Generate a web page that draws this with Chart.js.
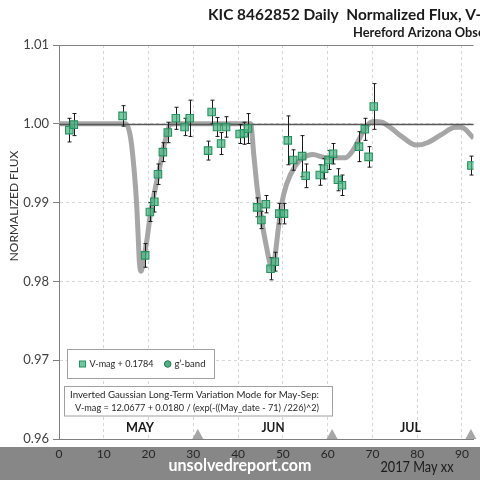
<!DOCTYPE html>
<html>
<head>
<meta charset="utf-8">
<script src="https://cdn.jsdelivr.net/npm/chart.js@4.4.0/dist/chart.umd.min.js"></script>
<style>
    html, body { margin: 0; padding: 0; background: #fff; overflow: hidden; }
    #wrap { width: 480px; height: 480px; }
</style>
</head>
<body>
<div id="wrap"><canvas id="fluxChart" width="480" height="480"></canvas></div>
<script>
// daily V-mag normalized flux
const obsDays = [2.3, 3.3, 14.2, 19.25, 20.3, 21.3, 22.1, 23.2, 24.3, 26.1, 28.05, 29.2,
    33.3, 34.1, 35.3, 36.2, 37.3, 40.35, 41.3, 42.2, 44.25, 45.2, 46.2, 47.25, 48.2,
    49.2, 50.25, 51.1, 52.3, 54.3, 55.1, 58.25, 59.2, 60.2, 61.2, 62.3, 63.2, 67.0,
    68.3, 69.15, 70.3, 92.1];
const obsFlux = [0.9992, 0.9999, 1.0010, 0.9833, 0.9888, 0.9901, 0.9936, 0.9964, 0.9989, 1.0007, 0.9996, 1.0007,
    0.9966, 1.0015, 0.9996, 0.9975, 0.9996, 0.9987, 0.9988, 0.9994, 0.9894, 0.9878, 0.9898, 0.9816, 0.9825,
    0.9886, 0.9886, 0.9979, 0.9954, 0.9959, 0.9934, 0.9935, 0.9943, 0.9954, 0.9962, 0.9929, 0.9922, 0.9971,
    0.9993, 0.9958, 1.0022, 0.9947];
const obsErr = [0.0015, 0.0014, 0.0013, 0.0015, 0.0012, 0.0013, 0.0013, 0.0012, 0.0013, 0.0014, 0.0011, 0.0023,
    0.0012, 0.0015, 0.0012, 0.0014, 0.0013, 0.0012, 0.0014, 0.0019, 0.0012, 0.0011, 0.0011, 0.0014, 0.0012,
    0.0013, 0.0013, 0.0031, 0.0013, 0.0026, 0.0015, 0.0013, 0.0013, 0.0012, 0.0013, 0.0014, 0.0013, 0.0019,
    0.0014, 0.0013, 0.0029, 0.0012];

// model curve (gray)
const modelDays = [0, 14.9, 16.0, 16.8, 17.35, 17.7, 17.95, 18.35, 18.95, 19.7, 20.4, 21.5, 22.6, 23.7, 24.8, 25.9,
    42.8, 43.5, 44.25, 45.3, 46.4, 47.2, 47.7, 48.3, 49.0, 49.7, 50.8, 52.7, 54.5, 56.7, 59.6, 64.0,
    65.5, 67.0, 68.4, 70.2, 72.1, 74.3, 76.5, 79.8, 82.3, 85.3, 88.6, 89.8, 92.6];
const modelFlux = [1.0000, 1.0000, 0.9982, 0.9940, 0.9897, 0.9855, 0.9825, 0.9813, 0.9830, 0.9855, 0.9885, 0.9918, 0.9948, 0.9978, 0.9999, 1.0000,
    1.0000, 0.9961, 0.9919, 0.9876, 0.9842, 0.9821, 0.9815, 0.9834, 0.9868, 0.9897, 0.9923, 0.9946, 0.9957, 0.9961, 0.9957, 0.9957,
    0.9965, 0.9980, 0.9995, 1.0003, 1.0002, 0.9994, 0.9984, 0.9973, 0.9976, 0.9986, 0.99955, 0.99955, 0.9982];

const monthNames = ['MAY', 'JUN', 'JUL'];
const monthCenters = [18.1, 47.8, 78.5];
const monthEnds = [31, 61, 92];

const FONT = 'Lato, "Open Sans", sans-serif';

// draw text squeezed/stretched so that `fitPart` (a prefix of text) spans `width` px
function fitText(ctx, text, x, y, font, width, align, fitPart) {
    ctx.save();
    ctx.font = font;
    const w = ctx.measureText(fitPart || text).width;
    const sx = width / w;
    ctx.translate(x, y);
    ctx.scale(sx, 1);
    ctx.textAlign = align || 'left';
    ctx.fillText(text, 0, 0);
    ctx.restore();
}

const overlay = {
    id: 'overlay',
    beforeDraw(chart) {
        const ctx = chart.ctx;
        ctx.save();
        ctx.fillStyle = '#878787';
        ctx.fillRect(0, 447, chart.width, chart.height - 447);
        ctx.restore();
    },
    afterDatasetDraw(chart, args) {
        if (args.index !== 0) return;
        const ctx = chart.ctx;
        const x = chart.scales.x;
        const y = chart.scales.y;
        const area = chart.chartArea;
        ctx.save();
        // reference line at 1.00 and top edge
        const y1 = Math.round(y.getPixelForValue(1.0)) + 0.5;
        ctx.strokeStyle = '#595959';
        ctx.lineWidth = 1.3;
        ctx.beginPath();
        ctx.moveTo(area.left, y1);
        ctx.lineTo(area.right, y1);
        ctx.stroke();
        ctx.strokeStyle = '#7f7f7f';
        ctx.lineWidth = 1;
        ctx.beginPath();
        ctx.moveTo(area.left, area.top + 0.5);
        ctx.lineTo(area.right, area.top + 0.5);
        ctx.stroke();
        // error bars
        ctx.strokeStyle = '#1a1a1a';
        ctx.lineWidth = 1;
        obsDays.forEach((d, i) => {
            const px = Math.round(x.getPixelForValue(d)) + 0.5;
            const top = y.getPixelForValue(obsFlux[i] + obsErr[i]);
            const bot = y.getPixelForValue(obsFlux[i] - obsErr[i]);
            ctx.beginPath();
            ctx.moveTo(px, top);
            ctx.lineTo(px, bot);
            ctx.moveTo(px - 2, top);
            ctx.lineTo(px + 2, top);
            ctx.moveTo(px - 2, bot);
            ctx.lineTo(px + 2, bot);
            ctx.stroke();
        });
        ctx.restore();
    },
    afterDatasetsDraw(chart) {
        const ctx = chart.ctx;
        const x = chart.scales.x;
        const area = chart.chartArea;
        ctx.save();
        // month-end markers
        ctx.fillStyle = '#a6a6a6';
        monthEnds.forEach(d => {
            const px = x.getPixelForValue(d);
            ctx.beginPath();
            ctx.moveTo(px - 5.5, area.bottom);
            ctx.lineTo(px + 5.5, area.bottom);
            ctx.lineTo(px, area.bottom - 10);
            ctx.closePath();
            ctx.fill();
        });
        // month names
        ctx.fillStyle = '#1a1a1a';
        ctx.textBaseline = 'middle';
        const monthWidths = [28, 23, 21];
        monthNames.forEach((m, i) => {
            fitText(ctx, m, x.getPixelForValue(monthCenters[i]), 428, 'bold 12.5px ' + FONT, monthWidths[i], 'center');
        });

        // legend box
        ctx.fillStyle = '#fff';
        ctx.strokeStyle = '#a0a0a0';
        ctx.lineWidth = 1;
        ctx.fillRect(67.5, 349.5, 147, 29);
        ctx.strokeRect(67.5, 349.5, 147, 29);
        ctx.fillStyle = 'rgba(76,184,134,0.8)';
        ctx.strokeStyle = '#2b8f60';
        ctx.fillRect(79.5, 361, 6, 6);
        ctx.strokeRect(79.5, 361, 6, 6);
        ctx.beginPath();
        ctx.arc(167.7, 364, 3.3, 0, Math.PI * 2);
        ctx.fillStyle = '#4fae82';
        ctx.fill();
        ctx.strokeStyle = '#2a7a55';
        ctx.stroke();
        ctx.fillStyle = '#262626';
        fitText(ctx, 'V-mag + 0.1784', 89.5, 364, '10px ' + FONT, 64);
        fitText(ctx, 'g\u2019-band', 174.5, 364, '10px ' + FONT, 31);

        // formula box
        ctx.fillStyle = '#fff';
        ctx.strokeStyle = '#a0a0a0';
        ctx.fillRect(64.5, 386.5, 268, 29.5);
        ctx.strokeRect(64.5, 386.5, 268, 29.5);
        ctx.fillStyle = '#262626';
        fitText(ctx, 'Inverted Gaussian Long-Term Variation Mode for May-Sep:', 70, 395, '9.5px ' + FONT, 249);
        fitText(ctx, 'V-mag = 12.0677 + 0.0180 / (exp(-((May_date - 71) /226)^2)', 75, 408, '9.5px ' + FONT, 244);
        ctx.restore();
    },
    afterDraw(chart) {
        const ctx = chart.ctx;
        ctx.save();
        ctx.fillStyle = '#1a1a1a';
        ctx.textBaseline = 'middle';
        fitText(ctx, 'KIC 8462852 Daily  Normalized Flux, V-mag', 208, 15, 'bold 16px ' + FONT, 268,
            'left', 'KIC 8462852 Daily  Normalized Flux, V');
        fitText(ctx, 'Hereford Arizona Observatory', 353, 33, 'bold 12.5px ' + FONT, 125,
            'left', 'Hereford Arizona Obs');

        // y axis title
        ctx.save();
        ctx.translate(14, 206);
        ctx.rotate(-Math.PI / 2);
        ctx.textAlign = 'center';
        ctx.fillStyle = '#333';
        ctx.font = '12px ' + FONT;
        ctx.fillText('NORMALIZED FLUX', 0, 0);
        ctx.restore();

        // bottom band texts
        ctx.fillStyle = '#ffffff';
        fitText(ctx, 'unsolvedreport.com', 240, 466, 'bold 17px ' + FONT, 143, 'center');
        ctx.fillStyle = '#1a1a1a';
        fitText(ctx, '2017 May xx', 417, 467, '15.5px ' + FONT, 73, 'center');
        ctx.restore();
    }
};

new Chart(document.getElementById('fluxChart'), {
    data: {
        datasets: [
            {
                type: 'line',
                label: 'model',
                data: modelDays.map((d, i) => ({ x: d, y: modelFlux[i] })),
                borderColor: '#a6a6a6',
                borderWidth: 5,
                pointRadius: 0,
                cubicInterpolationMode: 'monotone',
                order: 2
            },
            {
                type: 'scatter',
                label: 'V-mag + 0.1784',
                data: obsDays.map((d, i) => ({ x: d, y: obsFlux[i] })),
                pointStyle: 'rect',
                pointRadius: 5.3,
                backgroundColor: 'rgba(76,184,134,0.75)',
                borderColor: '#2b8f60',
                borderWidth: 1.1,
                order: 1
            }
        ]
    },
    options: {
        responsive: false,
        animation: false,
        layout: { padding: { top: 45, left: 0, right: 0, bottom: 0 } },
        plugins: {
            legend: { display: false },
            tooltip: { enabled: false }
        },
        scales: {
            x: {
                type: 'linear',
                min: 0,
                max: 92.6,
                afterFit: s => { s.height = 41; },
                border: { display: true, color: '#7f7f7f', dash: [3, 3] },
                grid: { color: '#d6d6d6', drawTicks: false },
                ticks: {
                    stepSize: 10,
                    includeBounds: false,
                    padding: 8,
                    color: '#262626',
                    font: { family: FONT, size: 12 }
                }
            },
            y: {
                min: 0.96,
                max: 1.01,
                afterFit: s => { s.width = 59; },
                border: { display: true, color: '#7f7f7f', dash: [3, 3] },
                grid: { color: '#d6d6d6', tickLength: 6, tickColor: '#7f7f7f' },
                ticks: {
                    stepSize: 0.01,
                    padding: 4,
                    color: '#404040',
                    font: { family: FONT, size: 13 },
                    callback: v => v.toFixed(2)
                }
            }
        }
    },
    plugins: [overlay]
});
</script>
</body>
</html>
